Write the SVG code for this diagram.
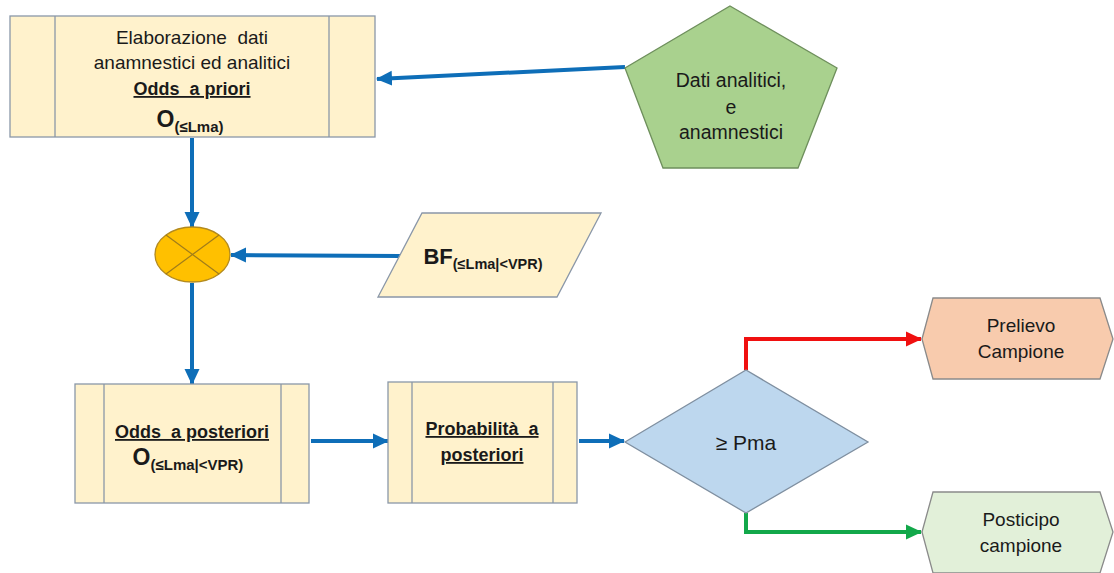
<svg xmlns="http://www.w3.org/2000/svg" width="1114" height="573" viewBox="0 0 1114 573">
<style>
.t{font-family:"Liberation Sans",Arial,sans-serif;fill:#1a1a1a;text-anchor:middle;white-space:pre}
.b{font-weight:bold}
.u{text-decoration:underline}
.box{fill:#fff2cc;stroke:#8a97a8;stroke-width:1.3}
.div{stroke:#8a97a8;stroke-width:1.3}
.blue{stroke:#0e6eb8;stroke-width:4;fill:none}
</style>
<defs>
<marker id="ab" markerUnits="userSpaceOnUse" markerWidth="17" markerHeight="17" refX="15" refY="8.5" orient="auto"><path d="M0,1 L16,8.5 L0,16 Z" fill="#0e6eb8"/></marker>
<marker id="ar" markerUnits="userSpaceOnUse" markerWidth="17" markerHeight="17" refX="15" refY="8.5" orient="auto"><path d="M0,1 L16,8.5 L0,16 Z" fill="#f01010"/></marker>
<marker id="ag" markerUnits="userSpaceOnUse" markerWidth="17" markerHeight="17" refX="15" refY="8.5" orient="auto"><path d="M0,1 L16,8.5 L0,16 Z" fill="#12a84a"/></marker>
</defs>
<rect width="1114" height="573" fill="#ffffff"/>

<g id="connectors">
<line class="blue" x1="625" y1="67" x2="377" y2="79" marker-end="url(#ab)"/>
<line class="blue" x1="192" y1="138" x2="192" y2="227" marker-end="url(#ab)"/>
<line class="blue" x1="401" y1="256" x2="231" y2="255" marker-end="url(#ab)"/>
<line class="blue" x1="192" y1="283" x2="192" y2="384" marker-end="url(#ab)"/>
<line class="blue" x1="311" y1="441" x2="388" y2="441" marker-end="url(#ab)"/>
<line class="blue" x1="579" y1="441" x2="624" y2="441" marker-end="url(#ab)"/>
<polyline points="746,370 746,339 921,339" fill="none" stroke="#f01010" stroke-width="4" marker-end="url(#ar)"/>
<polyline points="746,513 746,532 921,532" fill="none" stroke="#12a84a" stroke-width="4" marker-end="url(#ag)"/>
</g>

<g id="node-elaborazione">
<rect class="box" x="10" y="16" width="365" height="121"/>
<line class="div" x1="55" y1="16" x2="55" y2="137"/>
<line class="div" x1="329" y1="16" x2="329" y2="137"/>
<text class="t" x="192" y="44" font-size="19">Elaborazione  dati</text>
<text class="t" x="192" y="69" font-size="19">anamnestici ed analitici</text>
<text class="t b u" x="192" y="95" font-size="18">Odds  a priori</text>
<text class="t b" x="190" y="127" font-size="23">O<tspan font-size="15" dy="5">(≤Lma)</tspan></text>
</g>

<g id="node-dati">
<polygon points="730,6 837,68 798,168 663,168 625,68" fill="#a9d18e" stroke="#6e8f5c" stroke-width="1.3"/>
<text class="t" x="731" y="87" font-size="19.5">Dati analitici,</text>
<text class="t" x="731" y="114" font-size="19.5">e</text>
<text class="t" x="731" y="139" font-size="19.5">anamnestici</text>
</g>

<g id="node-moltiplicatore">
<ellipse cx="192.5" cy="254.5" rx="37.5" ry="27.5" fill="#ffc000" stroke="#b38a1e" stroke-width="1.3"/>
<line x1="166" y1="235" x2="219" y2="274" stroke="#a07c1a" stroke-width="1.2"/>
<line x1="219" y1="235" x2="166" y2="274" stroke="#a07c1a" stroke-width="1.2"/>
</g>

<g id="node-bf">
<polygon points="422,213 601,213 557,297 378,297" fill="#fff2cc" stroke="#8a97a8" stroke-width="1.3"/>
<text class="t b" x="483" y="264" font-size="22">BF<tspan font-size="14.5" dy="5">(≤Lma|&lt;VPR)</tspan></text>
</g>

<g id="node-odds-posteriori">
<rect class="box" x="75" y="384" width="234" height="119"/>
<line class="div" x1="104" y1="384" x2="104" y2="503"/>
<line class="div" x1="281" y1="384" x2="281" y2="503"/>
<text class="t b u" x="192" y="438" font-size="18">Odds  a posteriori</text>
<text class="t b" x="188" y="465" font-size="23">O<tspan font-size="15" dy="5">(≤Lma|&lt;VPR)</tspan></text>
</g>

<g id="node-probabilita">
<rect class="box" x="388" y="382" width="189" height="121"/>
<line class="div" x1="412" y1="382" x2="412" y2="503"/>
<line class="div" x1="553" y1="382" x2="553" y2="503"/>
<text class="t b u" x="482" y="435" font-size="18">Probabilità  a</text>
<text class="t b u" x="482" y="461" font-size="18">posteriori</text>
</g>

<g id="node-decisione">
<polygon points="625,442 746,370 868,442 746,513" fill="#bdd7ee" stroke="#7f8fa0" stroke-width="1.3"/>
<text class="t" x="746" y="450" font-size="21">≥ Pma</text>
</g>

<g id="node-prelievo">
<polygon points="922,339 933,298 1100,298 1113,339 1100,379 933,379" fill="#f8cbad" stroke="#8a8a8a" stroke-width="1.3"/>
<text class="t" x="1021" y="332" font-size="19">Prelievo</text>
<text class="t" x="1021" y="358" font-size="19">Campione</text>
</g>

<g id="node-posticipo">
<polygon points="922,532 933,492 1100,492 1113,532 1100,573 933,573" fill="#e2f0d9" stroke="#8a8a8a" stroke-width="1.3"/>
<text class="t" x="1021" y="526" font-size="19">Posticipo</text>
<text class="t" x="1021" y="552" font-size="19">campione</text>
</g>
</svg>
